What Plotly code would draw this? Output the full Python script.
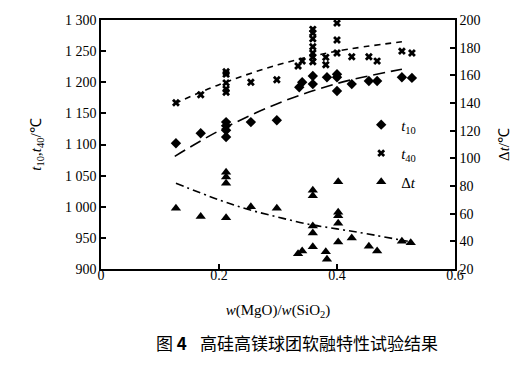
import plotly.graph_objects as go

# ---- data ----
x_t10 = [0.127, 0.169, 0.212, 0.212, 0.212, 0.212, 0.254, 0.298, 0.336, 0.341,
         0.359, 0.359, 0.383, 0.400, 0.400, 0.400, 0.425, 0.454, 0.468, 0.510, 0.527]
t10 = [1102, 1118, 1136, 1130, 1123, 1112, 1136, 1139, 1192, 1200,
       1210, 1197, 1208, 1213, 1208, 1186, 1197, 1202, 1202, 1208, 1207]

x_t40 = [0.127, 0.169, 0.212, 0.212, 0.212, 0.212, 0.212, 0.254, 0.298, 0.334, 0.341,
         0.359, 0.359, 0.359, 0.359, 0.359, 0.359, 0.359, 0.381, 0.381,
         0.400, 0.400, 0.400, 0.425, 0.454, 0.468, 0.510, 0.527]
t40 = [1167, 1180, 1217, 1213, 1199, 1189, 1184, 1200, 1204, 1226, 1234,
       1285, 1279, 1270, 1257, 1247, 1240, 1233, 1240, 1228,
       1295, 1268, 1247, 1241, 1241, 1234, 1250, 1247]

x_dt = [0.127, 0.169, 0.212, 0.212, 0.212, 0.212, 0.254, 0.298, 0.334, 0.341,
        0.359, 0.359, 0.359, 0.359, 0.359, 0.381, 0.383,
        0.402, 0.402, 0.402, 0.402, 0.402, 0.425, 0.454, 0.468, 0.510, 0.525]
dt = [64, 58, 90, 86.5, 82, 57, 65, 64, 31, 33,
      77, 73, 51, 46, 36, 32.5, 27,
      83, 61, 58.5, 53, 39.5, 42.5, 36.5, 33, 40, 39]

fit_x = [0.125, 0.2, 0.3, 0.4, 0.51]
t40_fit = [1166, 1196, 1228, 1250, 1265]
t10_fit = [1081, 1122, 1166, 1198, 1221]
dt_fit_x = [0.127, 0.2, 0.25, 0.3, 0.35, 0.4, 0.45, 0.52]
dt_fit = [82, 70, 63, 57.5, 52.5, 49, 45.5, 40]

left_ticks = [900, 950, 1000, 1050, 1100, 1150, 1200, 1250, 1300]
left_ticktext = ["900", "950", "1 000", "1 050", "1 100", "1 150", "1 200", "1 250", "1 300"]
right_ticks = [20, 40, 60, 80, 100, 120, 140, 160, 180, 200]
x_ticks = [0, 0.2, 0.4, 0.6]
x_ticktext = ["0", "0.2", "0.4", "0.6"]

FONT = "Liberation Serif, Times New Roman, serif"
CJK = "Noto Sans CJK SC"
W, H = 527, 372
L, R, T, B = 101, 72, 20, 103

fig = go.Figure()

fig.add_trace(go.Scatter(x=fit_x, y=t40_fit, mode="lines", line=dict(color="black", width=1.6, dash="6px,5px", shape="spline"),
                         showlegend=False, hoverinfo="skip"))
fig.add_trace(go.Scatter(x=fit_x, y=t10_fit, mode="lines", line=dict(color="black", width=1.6, dash="12px,6px", shape="spline"),
                         showlegend=False, hoverinfo="skip"))
fig.add_trace(go.Scatter(x=dt_fit_x, y=dt_fit, yaxis="y2", mode="lines",
                         line=dict(color="black", width=1.6, dash="8px,4px,2px,4px", shape="spline"),
                         showlegend=False, hoverinfo="skip"))

fig.add_trace(go.Scatter(x=x_t10, y=t10, mode="markers", name="<i>t</i><sub>10</sub>", legendgroup="a",
                         marker=dict(symbol="diamond", size=8, color="black")))
fig.add_trace(go.Scatter(x=x_t40, y=t40, mode="markers", name="<i>t</i><sub>40</sub>", legendgroup="b",
                         marker=dict(symbol="x", size=7, color="black")))
fig.add_trace(go.Scatter(x=x_dt, y=dt, yaxis="y2", mode="markers", name="Δ<i>t</i>", legendgroup="c",
                         marker=dict(symbol="triangle-up", size=9, color="black")))

axis_common = dict(showgrid=False, zeroline=False, showline=True, linecolor="black", linewidth=1.5,
                   ticks="inside", ticklen=5, tickwidth=1.5, tickcolor="black",
                   tickfont=dict(family=FONT, size=14, color="black"))

fig.update_layout(
    width=W, height=H,
    margin=dict(l=L, r=R, t=T, b=B),
    paper_bgcolor="white", plot_bgcolor="white",
    font=dict(family=FONT, size=14, color="black"),
    xaxis=dict(range=[0, 0.6], tickvals=x_ticks, ticktext=x_ticktext, mirror=True, ticklabelstandoff=-8,
               title=dict(text="<i>w</i>(MgO)/<i>w</i>(SiO<sub>2</sub>)", font=dict(family=FONT, size=15), standoff=23),
               **axis_common),
    yaxis=dict(range=[900, 1300], tickvals=left_ticks, ticktext=left_ticktext,
               title=dict(text="<i>t</i><sub>10</sub>,<i>t</i><sub>40</sub>/℃", font=dict(family=FONT, size=15), standoff=20),
               **axis_common),
    yaxis2=dict(range=[20, 200], tickvals=right_ticks, overlaying="y", side="right",
                title=dict(text="Δ<i>t</i>/℃", font=dict(family=FONT, size=15), standoff=19),
                **axis_common),
    legend=dict(x=0.735, y=0.645, xanchor="left", yanchor="top", bgcolor="rgba(0,0,0,0)",
                font=dict(family=FONT, size=15), tracegroupgap=6),
)

# caption placed at pixel positions (converted to paper coordinates)
pw = W - L - R
ph = H - T - B


def px_to_paper(px, py):
    return (px - L) / pw, (H - B - py) / ph


cx1, cy = px_to_paper(154, 342)
cx2, _ = px_to_paper(198, 342)
fig.add_annotation(text="图 <b>4</b>", x=cx1, y=cy, xref="paper", yref="paper", showarrow=False,
                   font=dict(family=CJK, size=17, color="black"), xanchor="left", yanchor="middle")
fig.add_annotation(text="高硅高镁球团软融特性试验结果", x=cx2, y=cy, xref="paper", yref="paper", showarrow=False,
                   font=dict(family=CJK, size=17, color="black"), xanchor="left", yanchor="middle")

fig.write_html("out.html", config={"displayModeBar": False},
               post_script="document.body.style.margin='0';document.body.style.padding='0';")
